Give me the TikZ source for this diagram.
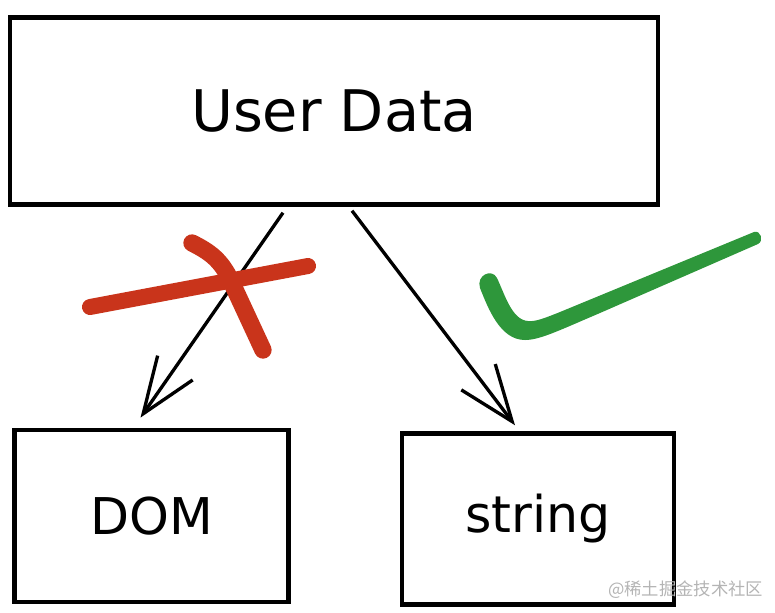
\documentclass[tikz,border=0pt]{standalone}
\usepackage{fontspec}
\setmainfont{DejaVu Sans}
\newfontfamily\cjkfont{Noto Sans CJK SC}
\usetikzlibrary{arrows.meta,calc}

\definecolor{crossred}{HTML}{C9341B}
\definecolor{tickgreen}{HTML}{2E973B}
\definecolor{markgray}{HTML}{B4B4B4}

\begin{document}
\begin{tikzpicture}[x=0.75pt,y=-0.75pt,
    box/.style={draw,line width=3.6pt,inner sep=0pt,font=\fontsize{38}{44}\selectfont},
    arr/.style={line width=2.5pt,-{Straight Barb[length=42pt,width=32pt]}},
    crossline/.style={crossred,line width=12pt,line cap=round,line join=round}
  ]

  \useasboundingbox (0,0) rectangle (775,612);

  \node[box,minimum width=486pt,minimum height=140pt,font=\fontsize{43}{48}\selectfont] (userdata) at (334,111) {User Data};
  \node[box,minimum width=206pt,minimum height=129pt] (dom) at (151.5,516) {DOM};
  \node[box,minimum width=204pt,minimum height=128pt] (str) at (538,519) {string};

  \draw[arr] ($(userdata.south)+(-51,6)$) -- ($(dom.north)+(-11,-10)$);
  \draw[arr] ($(userdata.south)+(18,4)$) -- ($(str.north)+(-23,-6)$);

  % wrong way
  \draw[crossline] (90,307) -- (308,266);
  \draw[crossline,line width=13pt] (192,243) .. controls (210,252) and (221,260) .. (231,281) -- (263,350);

  % right way
  \fill[tickgreen] (480,288) .. controls (488,308) and (500,340) .. (525,340)
    .. controls (540,340) and (560,330) .. (600,313) -- (758,244)
    .. controls (764,241) and (761,230) .. (754,232) -- (560,312)
    .. controls (545,318) and (535,322) .. (528,321)
    .. controls (512,320) and (505,295) .. (497,278)
    .. controls (492,268) and (476,275) .. (480,288) -- cycle;

  \node[font=\cjkfont\fontsize{13}{15}\selectfont,text=markgray,anchor=east] (wm) at (768,590) {@稀土掘金技术社区};
\end{tikzpicture}
\end{document}
